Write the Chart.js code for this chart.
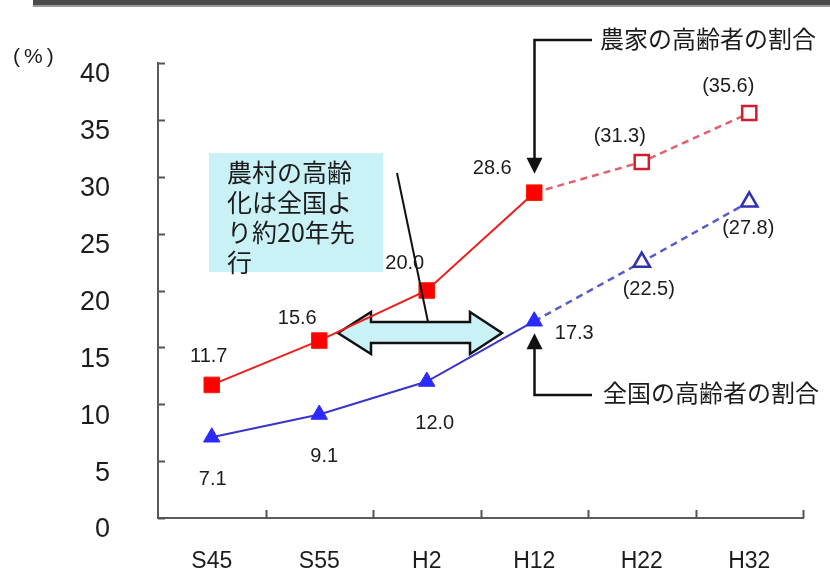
<!DOCTYPE html>
<html><head><meta charset="utf-8">
<script src="https://cdn.jsdelivr.net/npm/chart.js@4.4.0/dist/chart.umd.min.js"></script>
<style>html,body{margin:0;padding:0;background:#fff;}canvas{display:block;}</style>
</head><body>
<canvas id="c" width="830" height="572"></canvas>
<script>
// ---- data ----
const categories = ['S45', 'S55', 'H2', 'H12', 'H22', 'H32'];
const farmValues = [11.7, 15.6, 20.0, 28.6, 31.3, 35.6];
const nationalValues = [7.1, 9.1, 12.0, 17.3, 22.5, 27.8];
const farmLabels = ['11.7', '15.6', '20.0', '28.6', '(31.3)', '(35.6)'];
const nationalLabels = ['7.1', '9.1', '12.0', '17.3', '(22.5)', '(27.8)'];
const yTicks = [0, 5, 10, 15, 20, 25, 30, 35, 40];
const firstProjected = 4;
const farmName = '農家の高齢者の割合';
const nationalName = '全国の高齢者の割合';
const noteLines = ['農村の高齢', '化は全国よ', 'り約20年先', '行'];
const unitLabel = '(%)';

// ---- styling ----
const NUM_FONT = '"Liberation Sans", Arial, sans-serif';
const JP_FONT = '"Noto Sans CJK JP", sans-serif';
const TEXT = '#1c1c1c';
const CYAN = '#c9f1f6';
const farmLabelOffsets = [[-3, -28], [-22, -22], [-22, -27], [-42, -24], [-22, -25], [-21, -27]];
const natLabelOffsets = [[1, 42], [5, 42], [8, 42], [40, 12], [7, 27], [-1, 27]];

const proj = ctx => ctx.dataIndex >= firstProjected;

const decor = {
  id: 'decor',
  beforeDatasetsDraw(chart) {
    const ctx = chart.ctx;
    ctx.save();
    // note box
    ctx.fillStyle = CYAN;
    ctx.fillRect(209, 153, 174, 119);
    ctx.fillStyle = TEXT;
    ctx.font = '25px ' + JP_FONT;
    ctx.textAlign = 'left';
    ctx.textBaseline = 'middle';
    noteLines.forEach((t, i) => ctx.fillText(t, 227, 172 + i * 30));
    // double arrow
    ctx.beginPath();
    ctx.moveTo(338, 333);
    ctx.lineTo(371, 312);
    ctx.lineTo(371, 322);
    ctx.lineTo(470, 322);
    ctx.lineTo(470, 312);
    ctx.lineTo(502, 333);
    ctx.lineTo(470, 354);
    ctx.lineTo(470, 343);
    ctx.lineTo(371, 343);
    ctx.lineTo(371, 354);
    ctx.closePath();
    ctx.fillStyle = CYAN;
    ctx.fill();
    ctx.lineWidth = 2.5;
    ctx.strokeStyle = '#111';
    ctx.lineJoin = 'miter';
    ctx.stroke();
    ctx.restore();
  },
  afterDatasetsDraw(chart) {
    const ctx = chart.ctx, xs = chart.scales.x, ys = chart.scales.y, a = chart.chartArea;
    ctx.save();
    // inside tick marks
    ctx.strokeStyle = '#555';
    ctx.lineWidth = 2;
    ctx.beginPath();
    yTicks.forEach(v => {
      const py = Math.round(ys.getPixelForValue(v)) + 0.5;
      ctx.moveTo(a.left, py); ctx.lineTo(a.left + 7, py);
    });
    const step = xs.getPixelForValue(1) - xs.getPixelForValue(0);
    categories.forEach((c, i) => {
      const px = Math.round(xs.getPixelForValue(i) + step / 2) + 0.5;
      ctx.moveTo(px, a.bottom); ctx.lineTo(px, a.bottom - 8);
    });
    ctx.stroke();

    // pointer line from note box to arrow
    ctx.strokeStyle = '#111';
    ctx.lineWidth = 2;
    ctx.beginPath();
    ctx.moveTo(397, 173);
    ctx.lineTo(428, 322);
    ctx.stroke();

    // data labels
    ctx.fillStyle = TEXT;
    ctx.font = '20px ' + NUM_FONT;
    ctx.textAlign = 'center';
    ctx.textBaseline = 'middle';
    farmValues.forEach((v, i) => {
      ctx.fillText(farmLabels[i], xs.getPixelForValue(i) + farmLabelOffsets[i][0], ys.getPixelForValue(v) + farmLabelOffsets[i][1]);
    });
    nationalValues.forEach((v, i) => {
      ctx.fillText(nationalLabels[i], xs.getPixelForValue(i) + natLabelOffsets[i][0], ys.getPixelForValue(v) + natLabelOffsets[i][1]);
    });

    // callouts
    const cx = Math.round(xs.getPixelForValue(3)) + 0.5;
    const redTip = ys.getPixelForValue(farmValues[3]) - 19;
    const blueTip = ys.getPixelForValue(nationalValues[3]) + 12;
    ctx.strokeStyle = '#111';
    ctx.fillStyle = '#111';
    ctx.lineWidth = 2.5;
    ctx.beginPath();
    ctx.moveTo(592, 40); ctx.lineTo(cx, 40); ctx.lineTo(cx, redTip - 14);
    ctx.stroke();
    ctx.beginPath();
    ctx.moveTo(cx, redTip); ctx.lineTo(cx - 8, redTip - 16); ctx.lineTo(cx + 8, redTip - 16); ctx.closePath();
    ctx.fill();
    ctx.beginPath();
    ctx.moveTo(cx, blueTip + 14); ctx.lineTo(cx, 395); ctx.lineTo(592, 395);
    ctx.stroke();
    ctx.beginPath();
    ctx.moveTo(cx, blueTip); ctx.lineTo(cx - 8, blueTip + 16); ctx.lineTo(cx + 8, blueTip + 16); ctx.closePath();
    ctx.fill();

    ctx.fillStyle = TEXT;
    ctx.font = '24px ' + JP_FONT;
    ctx.textAlign = 'left';
    ctx.textBaseline = 'middle';
    ctx.fillText(farmName, 600, 39);
    ctx.fillText(nationalName, 603, 393);

    // unit label
    ctx.font = '21px ' + NUM_FONT;
    ctx.textAlign = 'left';
    ctx.letterSpacing = '4px';
    ctx.fillText(unitLabel, 13, 57);
    ctx.letterSpacing = '0px';

    // top frame
    ctx.fillStyle = '#4a4a4a';
    ctx.fillRect(33, 0, 797, 5);
    ctx.fillStyle = '#9a9a9a';
    ctx.fillRect(33, 5, 797, 2);
    ctx.restore();
  }
};

new Chart(document.getElementById('c'), {
  type: 'line',
  data: {
    labels: categories,
    datasets: [
      {
        label: farmName,
        data: farmValues,
        borderColor: '#ee1c1c',
        borderWidth: 2,
        tension: 0,
        pointStyle: 'rect',
        pointRadius: ctx => proj(ctx) ? 10 : 11,
        pointBackgroundColor: ctx => proj(ctx) ? '#ffffff' : '#ff0000',
        pointBorderColor: ctx => proj(ctx) ? '#d01e2e' : '#ff1a00',
        pointBorderWidth: ctx => proj(ctx) ? 2.5 : 1,
        segment: {
          borderDash: ctx => ctx.p1DataIndex >= firstProjected ? [7, 5] : undefined,
          borderColor: ctx => ctx.p1DataIndex >= firstProjected ? '#e0606e' : undefined,
          borderWidth: ctx => ctx.p1DataIndex >= firstProjected ? 2.5 : undefined
        },
        clip: false
      },
      {
        label: nationalName,
        data: nationalValues,
        borderColor: '#3a34c8',
        borderWidth: 2,
        tension: 0,
        pointStyle: 'triangle',
        pointRadius: 9.5,
        pointBackgroundColor: ctx => proj(ctx) ? '#ffffff' : '#2a2aff',
        pointBorderColor: ctx => proj(ctx) ? '#3030b0' : '#2a2aff',
        pointBorderWidth: ctx => proj(ctx) ? 2.5 : 1,
        segment: {
          borderDash: ctx => ctx.p1DataIndex >= firstProjected ? [7, 5] : undefined,
          borderColor: ctx => ctx.p1DataIndex >= firstProjected ? '#5a5ad0' : undefined,
          borderWidth: ctx => ctx.p1DataIndex >= firstProjected ? 2.5 : undefined
        },
        clip: false
      }
    ]
  },
  options: {
    responsive: false,
    devicePixelRatio: 1,
    animation: false,
    layout: { autoPadding: false, padding: { top: 63, right: 27, left: 0, bottom: 0 } },
    plugins: { legend: { display: false }, tooltip: { enabled: false } },
    scales: {
      x: {
        type: 'category',
        offset: true,
        grid: { display: true, drawOnChartArea: false, drawTicks: false, offset: true },
        border: { display: true, color: '#5a5a5a', width: 2 },
        ticks: { color: TEXT, font: { family: NUM_FONT, size: 23 }, padding: 30, maxRotation: 0, autoSkip: false },
        afterFit: s => { s.height = 54; s.paddingLeft = 0; s.paddingRight = 0; }
      },
      y: {
        min: 0, max: 40,
        grid: { display: true, drawOnChartArea: false, drawTicks: false },
        border: { display: true, color: '#5a5a5a', width: 2 },
        ticks: { color: TEXT, font: { family: NUM_FONT, size: 27 }, padding: 48, labelOffset: 12 },
        afterBuildTicks: s => { s.ticks = yTicks.map(v => ({ value: v })); },
        afterFit: s => { s.width = 158; s.paddingTop = 0; s.paddingBottom = 0; }
      }
    }
  },
  plugins: [decor]
});
</script>
</body></html>
